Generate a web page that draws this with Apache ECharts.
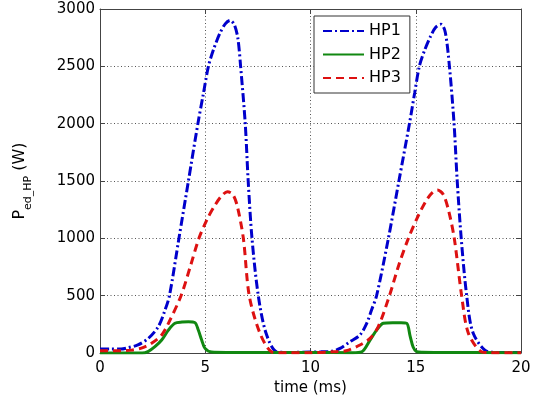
<!DOCTYPE html>
<html>
<head>
<meta charset="utf-8">
<script src="https://cdn.jsdelivr.net/npm/echarts@6/dist/echarts.min.js"></script>
<style>html,body{margin:0;padding:0;background:#fff}#c{width:539px;height:402px}</style>
</head>
<body>
<div id="c"></div>
<script>
// ---- data (time in ms, power in W) ----
var seriesNames = ['HP1', 'HP2', 'HP3'];
var xTicks = [0, 5, 10, 15, 20];
var yTicks = [0, 500, 1000, 1500, 2000, 2500, 3000];

var hp1Time  = [0, 0.5, 1.0, 1.3, 1.8, 2.3, 2.77, 3.09, 3.3, 3.75, 4.2, 4.65, 4.9, 5.15, 5.4, 5.7, 5.95, 6.18, 6.38, 6.55, 6.68, 6.9, 7.04, 7.22, 7.52, 7.89, 8.4, 9.0, 10.0,
                10.5, 11.0, 11.4, 11.88, 12.35, 12.67, 12.9, 13.14, 13.7, 14.2, 14.7, 14.95, 15.17, 15.4, 15.7, 15.95, 16.2, 16.4, 16.6, 16.82, 16.97, 17.16, 17.42, 17.73, 18.45, 19.0, 20.0];
var hp1Power = [35, 35, 35, 45, 70, 128, 230, 375, 500, 1000, 1500, 2000, 2250, 2500, 2650, 2790, 2870, 2900, 2865, 2744, 2500, 2000, 1500, 1000, 500, 172, 10, 5, 8,
                10, 15, 40, 99, 157, 259, 375, 500, 1000, 1500, 2000, 2270, 2500, 2630, 2760, 2840, 2866, 2800, 2500, 2000, 1500, 1000, 500, 172, 10, 5, 5];

var hp2Time  = [0, 2.0, 2.3, 2.61, 2.93, 3.25, 3.56, 3.9, 4.2, 4.51, 4.67, 4.83, 4.99, 5.3, 6.0, 10.0,
                12.0, 12.43, 12.83, 13.14, 13.46, 13.9, 14.3, 14.57, 14.73, 14.88, 15.04, 15.3, 16.0, 20.0];
var hp2Power = [0, 0, 15, 55, 113, 200, 259, 270, 273, 265, 200, 113, 40, 8, 5, 5,
                3, 10, 113, 200, 259, 264, 264, 260, 150, 50, 12, 6, 5, 3];

var hp3Time  = [0, 1.0, 1.5, 2.0, 2.45, 2.93, 3.25, 3.85, 4.3, 4.7, 5.1, 5.5, 5.8, 6.05, 6.3, 6.51, 6.81, 7.09, 7.6, 8.15, 8.5, 10.0,
                11.0, 11.7, 12.35, 12.83, 13.22, 13.75, 14.2, 14.65, 15.1, 15.5, 15.8, 16.03, 16.3, 16.55, 16.83, 17.18, 17.5, 18.13, 18.5, 20.0];
var hp3Power = [20, 20, 25, 45, 85, 157, 259, 500, 760, 1000, 1170, 1300, 1375, 1407, 1385, 1290, 1000, 500, 172, 10, 3, 3,
                10, 20, 70, 128, 230, 500, 770, 1000, 1190, 1330, 1400, 1421, 1385, 1250, 1000, 500, 172, 10, 3, 3];

function zip(a, b) { return a.map(function (t, i) { return [t, b[i]]; }); }

var FONT = 'DejaVu Sans';
var chart = echarts.init(document.getElementById('c'), null, {renderer: 'canvas'});
var gridLine = {show: true, lineStyle: {color: '#555', width: 1, type: [1, 2.5]}};
var boxLine = {show: true, onZero: false, lineStyle: {color: '#444', width: 1}};
var tickIn = {show: true, inside: true, length: 5, lineStyle: {color: '#444'}};
var plain = function (v) { return String(v); };

chart.setOption({
  animation: false,
  backgroundColor: '#fff',
  grid: {left: 100, right: 18, top: 9, bottom: 49, containLabel: false},
  legend: {
    data: seriesNames.map(function (n) { return {name: n, itemStyle: {opacity: 0}}; }),
    orient: 'vertical',
    left: 314, top: 16,
    padding: [6, 9, 6, 8],
    itemWidth: 41, itemHeight: 14, itemGap: 5.5,
    backgroundColor: '#fff',
    borderColor: '#333', borderWidth: 1,
    textStyle: {fontFamily: FONT, fontSize: 16, color: '#000', lineHeight: 18}
  },
  xAxis: [{
    type: 'value', min: xTicks[0], max: xTicks[xTicks.length - 1], interval: xTicks[1] - xTicks[0],
    position: 'bottom',
    name: 'time (ms)', nameLocation: 'middle', nameGap: 26,
    nameTextStyle: {fontFamily: FONT, fontSize: 15, color: '#000'},
    axisLine: boxLine, axisTick: tickIn,
    axisLabel: {fontFamily: FONT, fontSize: 15, color: '#000', margin: 8, formatter: plain},
    splitLine: gridLine
  }, {
    type: 'value', min: xTicks[0], max: xTicks[xTicks.length - 1], interval: xTicks[1] - xTicks[0],
    position: 'top', axisLine: boxLine, axisTick: tickIn, axisLabel: {show: false}, splitLine: {show: false}
  }],
  yAxis: [{
    type: 'value', min: yTicks[0], max: yTicks[yTicks.length - 1], interval: yTicks[1] - yTicks[0],
    position: 'left',
    name: '{p|P}{s|ed_HP}{p| (W)}', nameLocation: 'middle', nameGap: 66, nameRotate: 90,
    nameTextStyle: {
      fontFamily: FONT, color: '#000',
      rich: {
        p: {fontFamily: FONT, fontSize: 16, lineHeight: 16, color: '#000', padding: [0, 0, 6, 0], verticalAlign: 'bottom'},
        s: {fontFamily: FONT, fontSize: 11, lineHeight: 11, color: '#000', verticalAlign: 'bottom'}
      }
    },
    axisLine: boxLine, axisTick: tickIn,
    axisLabel: {fontFamily: FONT, fontSize: 15, color: '#000', margin: 5, formatter: plain},
    splitLine: gridLine
  }, {
    type: 'value', min: yTicks[0], max: yTicks[yTicks.length - 1], interval: yTicks[1] - yTicks[0],
    position: 'right', axisLine: boxLine, axisTick: tickIn, axisLabel: {show: false}, splitLine: {show: false}
  }],
  series: [{
    name: seriesNames[0], type: 'line', data: zip(hp1Time, hp1Power),
    symbol: 'none', smooth: 0.3,
    lineStyle: {color: '#0000cc', width: 3, type: [9, 3, 2, 3]},
    itemStyle: {color: '#0000cc'}
  }, {
    name: seriesNames[1], type: 'line', data: zip(hp2Time, hp2Power),
    symbol: 'none', smooth: 0.3,
    lineStyle: {color: '#118811', width: 3, type: 'solid'},
    itemStyle: {color: '#118811'}
  }, {
    name: seriesNames[2], type: 'line', data: zip(hp3Time, hp3Power),
    symbol: 'none', smooth: 0.3,
    lineStyle: {color: '#dd1111', width: 3, type: [8, 5]},
    itemStyle: {color: '#dd1111'}
  }]
});
</script>
</body>
</html>
